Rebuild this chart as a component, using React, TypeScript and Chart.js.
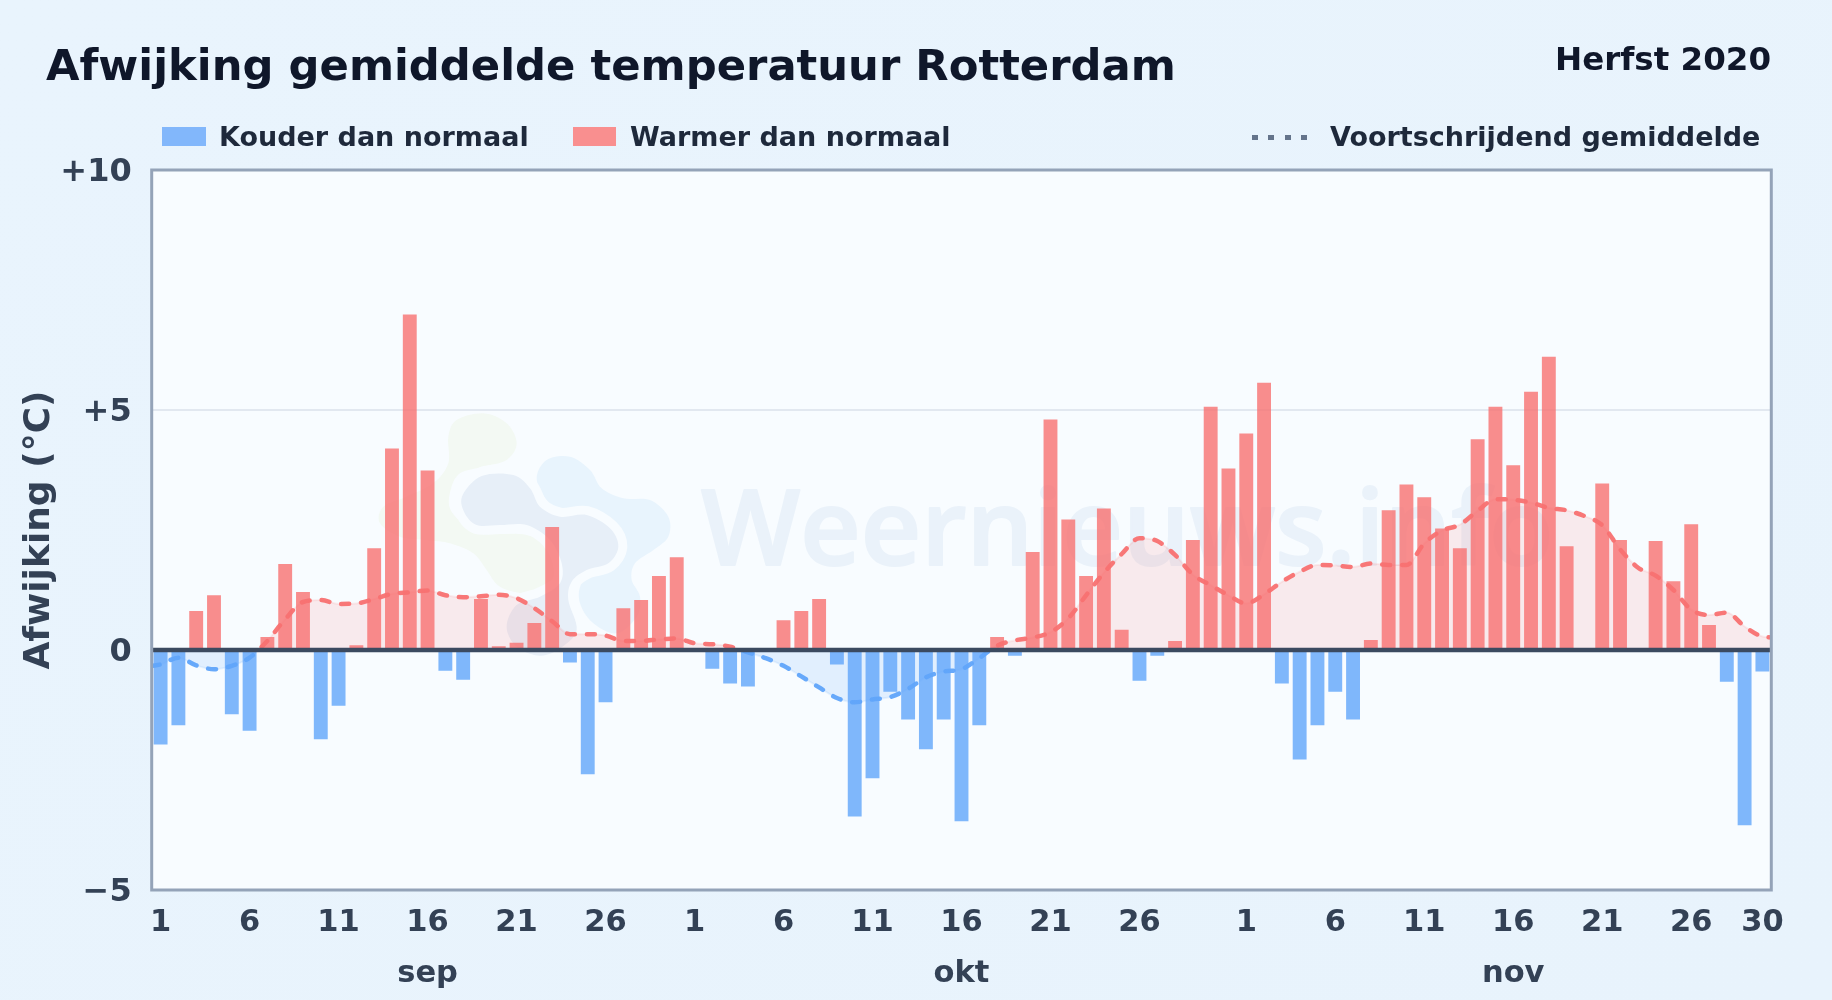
import React, { useEffect, useRef } from "react";
import { Chart, registerables } from "chart.js";

Chart.register(...registerables);

const septemberValues = [-1.97, -1.57, 0.81, 1.14, -1.34, -1.68, 0.27, 1.79, 1.21, -1.86, -1.16, 0.1, 2.12, 4.2, 6.99, 3.74, -0.43, -0.62, 1.06, 0.08, 0.15, 0.56, 2.56, -0.26, -2.59, -1.09, 0.87, 1.04, 1.54, 1.93];
const octoberValues = [0, -0.39, -0.7, -0.76, 0, 0.62, 0.81, 1.06, -0.3, -3.47, -2.67, -0.87, -1.45, -2.07, -1.45, -3.57, -1.57, 0.27, -0.12, 2.04, 4.8, 2.72, 1.54, 2.95, 0.42, -0.64, -0.12, 0.19, 2.29, 5.07, 3.78];
const novemberValues = [4.51, 5.57, -0.7, -2.28, -1.57, -0.87, -1.45, 0.21, 2.91, 3.45, 3.18, 2.53, 2.12, 4.39, 5.07, 3.85, 5.38, 6.11, 2.16, 0, 3.47, 2.29, 0, 2.27, 1.43, 2.62, 0.52, -0.66, -3.65, -0.45];

const septemberDays = ["1", "", "", "", "", "6", "", "", "", "", "11", "", "", "", "", "16", "", "", "", "", "21", "", "", "", "", "26", "", "", "", ""];
const octoberDays = ["1", "", "", "", "", "6", "", "", "", "", "11", "", "", "", "", "16", "", "", "", "", "21", "", "", "", "", "26", "", "", "", "", ""];
const novemberDays = ["1", "", "", "", "", "6", "", "", "", "", "11", "", "", "", "", "16", "", "", "", "", "21", "", "", "", "", "26", "", "", "", "30"];

const monthNames = ["sep", "okt", "nov"];
const monthLabelDay = "16";

const runningMean = [-0.33, -0.3, -0.16, -0.32, -0.4, -0.33, -0.16, 0.19, 0.64, 1.0, 1.04, 0.96, 0.97, 1.06, 1.17, 1.2, 1.24, 1.14, 1.1, 1.12, 1.15, 1.08, 0.87, 0.6, 0.33, 0.33, 0.3, 0.19, 0.19, 0.22, 0.24, 0.14, 0.12, 0.07, -0.05, -0.17, -0.33, -0.55, -0.78, -1.0, -1.09, -1.03, -0.98, -0.81, -0.57, -0.45, -0.4, -0.17, 0.09, 0.2, 0.26, 0.37, 0.66, 1.14, 1.61, 2.0, 2.33, 2.27, 1.98, 1.57, 1.35, 1.14, 0.97, 1.16, 1.42, 1.63, 1.77, 1.76, 1.73, 1.8, 1.77, 1.77, 2.22, 2.49, 2.61, 2.9, 3.14, 3.13, 3.07, 2.96, 2.91, 2.79, 2.6, 2.1, 1.72, 1.55, 1.25, 0.84, 0.73, 0.78, 0.49, 0.28, 0.26];
const runningMeanX = [-0.5, ...Array.from({ length: 91 }, (_, i) => i), 90.5];

const yTicks: Record<number, string> = { 10: "+10", 5: "+5", 0: "0", [-5]: "\u22125" };

const allValues = [...septemberValues, ...octoberValues, ...novemberValues];
const allDays = [...septemberDays, ...octoberDays, ...novemberDays];
const tickLabels: (string | string[])[] = [septemberDays, octoberDays, novemberDays].flatMap((days, m) =>
  days.map((d) => (d === monthLabelDay ? [d, monthNames[m]] : d))
);
const meanPoints = runningMean.map((y, i) => ({ x: runningMeanX[i], y }));

const FONT = '"DejaVu Sans", sans-serif';
const RED = "rgba(248,113,113,0.8)";
const BLUE = "rgba(96,165,250,0.8)";
const PLOT_BG = "#f8fcff";

type P = [number, number];
const greenBlob: P[] = [[265, 110], [290, 60], [370, 40], [440, 70], [470, 130], [440, 180], [370, 200], [300, 220], [272, 270], [272, 330], [330, 385], [410, 400], [500, 405], [590, 440], [610, 500], [580, 560], [500, 580], [420, 560], [380, 510], [340, 460], [270, 430], [200, 420], [120, 410], [60, 370], [70, 320], [140, 290], [220, 250], [265, 190]];
const lightBlob: P[] = [[530, 235], [560, 180], [630, 170], [690, 210], [725, 265], [790, 295], [870, 300], [925, 350], [925, 410], [880, 450], [825, 490], [815, 540], [840, 590], [830, 650], [770, 700], [700, 670], [660, 610], [665, 550], [720, 505], [780, 470], [790, 420], [750, 360], [690, 330], [610, 335], [560, 300]];
const navyBlob: P[] = [[308, 285], [365, 228], [460, 225], [510, 265], [540, 320], [600, 350], [680, 345], [750, 385], [775, 440], [745, 490], [680, 510], [635, 545], [625, 600], [650, 690], [600, 745], [540, 767], [470, 740], [440, 680], [470, 615], [540, 590], [600, 550], [605, 490], [570, 420], [500, 375], [420, 375], [350, 375], [312, 335]];

function blobPath(ctx: CanvasRenderingContext2D, pts: P[]) {
  const sx = (p: P) => 360 + p[0] / 3;
  const sy = (p: P) => 400 + p[1] / 3;
  const n = pts.length;
  ctx.beginPath();
  ctx.moveTo(sx(pts[0]), sy(pts[0]));
  for (let i = 0; i < n; i++) {
    const p0 = pts[(i - 1 + n) % n], p1 = pts[i], p2 = pts[(i + 1) % n], p3 = pts[(i + 2) % n];
    ctx.bezierCurveTo(
      sx(p1) + (sx(p2) - sx(p0)) / 6, sy(p1) + (sy(p2) - sy(p0)) / 6,
      sx(p2) - (sx(p3) - sx(p1)) / 6, sy(p2) - (sy(p3) - sy(p1)) / 6,
      sx(p2), sy(p2)
    );
  }
  ctx.closePath();
}

const plotDecor = {
  id: "plotDecor",
  beforeDraw(chart: any) {
    const { ctx, chartArea: a } = chart;
    ctx.save();
    ctx.fillStyle = PLOT_BG;
    ctx.fillRect(a.left, a.top, a.right - a.left, a.bottom - a.top);
    // watermark
    blobPath(ctx, greenBlob);
    ctx.fillStyle = "#f3f9f3";
    ctx.fill();
    blobPath(ctx, lightBlob);
    ctx.fillStyle = "#e8f4fd";
    ctx.fill();
    blobPath(ctx, navyBlob);
    ctx.strokeStyle = PLOT_BG;
    ctx.lineWidth = 18;
    ctx.stroke();
    ctx.fillStyle = "#e7eff8";
    ctx.fill();
    ctx.font = `600 105px "Open Sans", sans-serif`;
    ctx.fillStyle = "#eaf2fa";
    ctx.strokeStyle = "#eaf2fa";
    ctx.lineWidth = 2;
    ctx.lineJoin = "round";
    ctx.textBaseline = "alphabetic";
    ctx.textAlign = "left";
    ctx.fillText("Weernieuws.info", 701, 565);
    ctx.strokeText("Weernieuws.info", 701, 565);
    ctx.restore();
  },
  afterDraw(chart: any) {
    const { ctx, chartArea: a, scales } = chart;
    const y0 = scales.y.getPixelForValue(0);
    ctx.save();
    ctx.strokeStyle = "#3b4a60";
    ctx.lineWidth = 4.5;
    ctx.beginPath();
    ctx.moveTo(a.left, y0);
    ctx.lineTo(a.right, y0);
    ctx.stroke();
    ctx.strokeStyle = "#94a3b8";
    ctx.lineWidth = 3;
    ctx.strokeRect(a.left, a.top, a.right - a.left, a.bottom - a.top);
    ctx.restore();
  },
};

function splitAtZero(chart: any, above: string, below: string) {
  const area = chart.chartArea;
  const y = chart.scales?.y;
  if (!area || !y) return above;
  const g = chart.ctx.createLinearGradient(0, area.top, 0, area.bottom);
  const stop = (y.getPixelForValue(0) - area.top) / (area.bottom - area.top);
  g.addColorStop(0, above);
  g.addColorStop(stop, above);
  g.addColorStop(stop, below);
  g.addColorStop(1, below);
  return g;
}

const text = (left: number, top: number, size: number, color: string, right?: number): React.CSSProperties => ({
  position: "absolute",
  left: right === undefined ? left : undefined,
  right,
  top,
  fontFamily: FONT,
  fontWeight: 700,
  fontSize: size,
  lineHeight: "1",
  color,
  whiteSpace: "nowrap",
});

export default function App() {
  const ref = useRef<HTMLCanvasElement>(null);
  useEffect(() => {
    const chart = new Chart(ref.current!, {
      type: "bar",
      data: {
        labels: allDays,
        datasets: [
          {
            type: "line",
            label: "Voortschrijdend gemiddelde (vlak)",
            data: meanPoints,
            xAxisID: "x2",
            order: 3,
            cubicInterpolationMode: "monotone",
            pointRadius: 0,
            borderWidth: 2,
            borderColor: (c: any) => splitAtZero(c.chart, "rgba(248,113,113,0.12)", "rgba(96,165,250,0.12)"),
            fill: { target: { value: 0 }, above: "rgba(248,113,113,0.13)", below: "rgba(96,165,250,0.15)" },
          },
          {
            type: "bar",
            label: "Afwijking",
            data: allValues,
            order: 2,
            grouped: false,
            categoryPercentage: 1,
            barPercentage: 0.78,
            backgroundColor: (c: any) => ((c.raw ?? 0) >= 0 ? RED : BLUE),
            borderWidth: 0,
          },
          {
            type: "line",
            label: "Voortschrijdend gemiddelde",
            data: meanPoints,
            xAxisID: "x2",
            order: 1,
            cubicInterpolationMode: "monotone",
            pointRadius: 0,
            borderWidth: 4.5,
            borderCapStyle: "round",
            borderDash: [8, 12],
            borderColor: (c: any) => splitAtZero(c.chart, "rgba(248,113,113,0.95)", "rgba(96,165,250,0.95)"),
            fill: false,
          },
        ] as any,
      },
      options: {
        responsive: false,
        animation: false,
        layout: { padding: { top: 170, right: 60.7, left: 0, bottom: 0 } },
        plugins: { legend: { display: false }, title: { display: false }, tooltip: { enabled: false } },
        scales: {
          x: {
            type: "category",
            offset: true,
            grid: { display: false },
            border: { display: false },
            afterFit: (s: any) => { s.height = 110; },
            ticks: {
              autoSkip: false,
              maxRotation: 0,
              minRotation: 0,
              padding: -1,
              color: "#334155",
              font: { family: FONT, weight: "bold", size: 30.5, lineHeight: 1.69 },
              callback: (_v: any, i: number) => tickLabels[i],
            },
          },
          x2: { type: "linear", display: false, offset: false, min: -0.5, max: 90.5 },
          y: {
            min: -5,
            max: 10,
            border: { display: false },
            grid: {
              drawTicks: false,
              lineWidth: 2,
              color: (c: any) => (c.tick?.value === 5 ? "#e2e8f0" : "transparent"),
            },
            afterFit: (s: any) => { s.width = 151.7; },
            title: {
              display: true,
              text: "Afwijking (\u00b0C)",
              color: "#334155",
              font: { family: FONT, weight: "bold", size: 36, lineHeight: 1.2 },
              padding: { top: 18, bottom: 0 },
            },
            ticks: {
              stepSize: 5,
              padding: 20,
              labelOffset: 3,
              color: "#334155",
              font: { family: FONT, weight: "bold", size: 32 },
              callback: (v: any) => yTicks[v],
            },
          },
        },
      } as any,
      plugins: [plotDecor],
    });
    return () => chart.destroy();
  }, []);

  return (
    <div
      style={{
        position: "fixed",
        left: 0,
        top: 0,
        width: 1832,
        height: 1000,
        overflow: "hidden",
        background: "linear-gradient(135deg, #e9f4fd 0%, #e8f3fc 100%)",
      }}
    >
      <canvas ref={ref} width={1832} height={1000} style={{ position: "absolute", left: 0, top: 0, display: "block" }} />
      <div style={text(46, 43.5, 43.3, "#0f172a")}>Afwijking gemiddelde temperatuur Rotterdam</div>
      <div style={text(0, 43, 32.5, "#0f172a", 61)}>Herfst 2020</div>
      <div style={{ position: "absolute", left: 162, top: 127, width: 44, height: 19, background: "#82b7fb" }} />
      <div style={text(219, 123, 27, "#1e293b")}>Kouder dan normaal</div>
      <div style={{ position: "absolute", left: 573, top: 127, width: 43, height: 19, background: "#f98f8f" }} />
      <div style={text(630, 123, 27, "#1e293b")}>Warmer dan normaal</div>
      <div
        style={{
          position: "absolute",
          left: 1252,
          top: 135,
          width: 55,
          height: 5,
          background: "repeating-linear-gradient(90deg, #64748b 0 6px, transparent 6px 16.3px)",
        }}
      />
      <div style={text(1330, 123, 27, "#1e293b")}>Voortschrijdend gemiddelde</div>
    </div>
  );
}
